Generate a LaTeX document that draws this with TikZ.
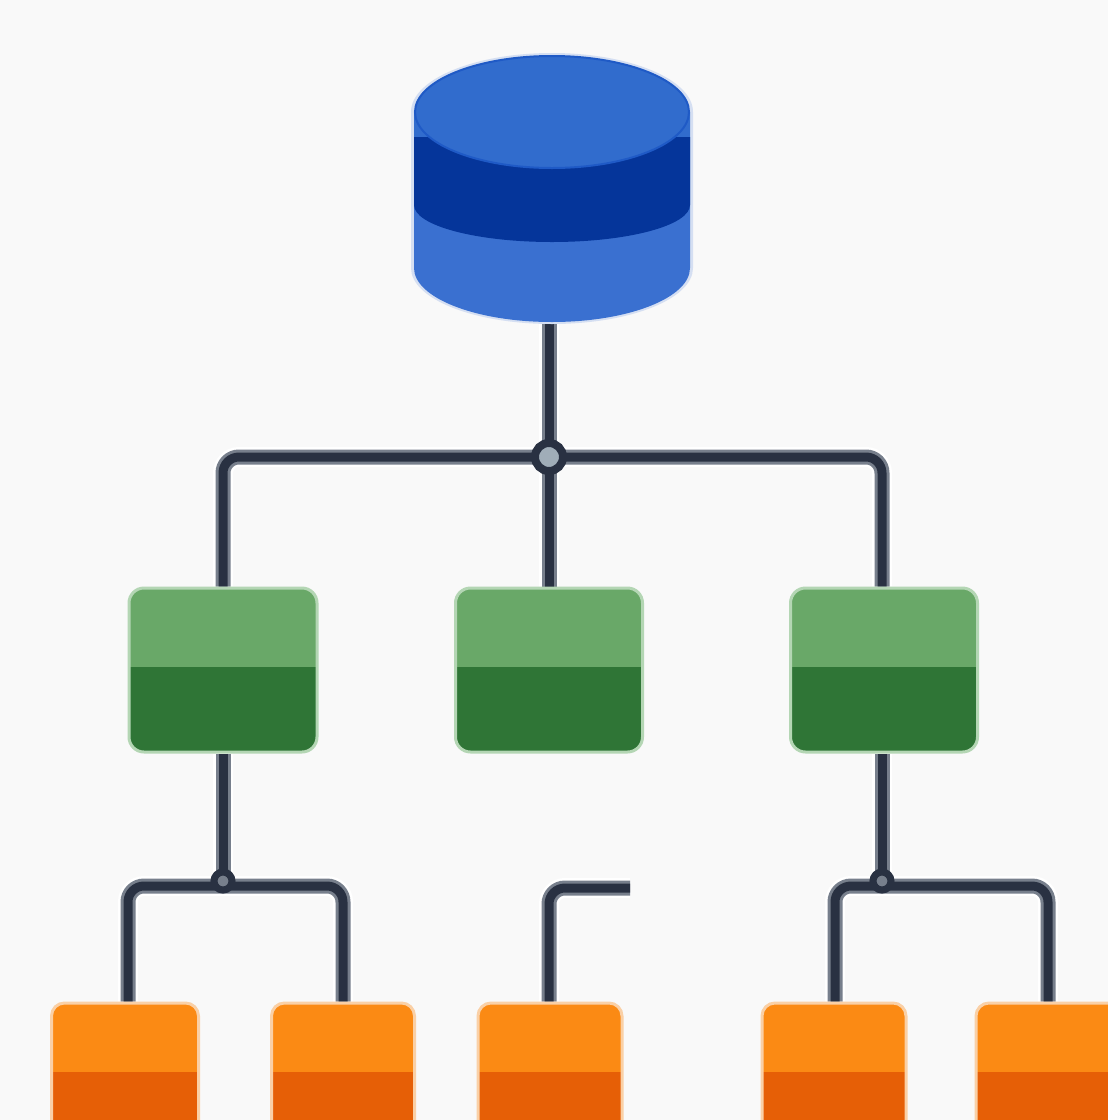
\documentclass[tikz,border=0pt]{standalone}
\definecolor{pagebg}{HTML}{F9F9F9}
\definecolor{linegray}{HTML}{777F8C}
\definecolor{linedark}{HTML}{293142}
\definecolor{hubfill}{HTML}{A0ADB8}
\definecolor{greenlight}{HTML}{69A868}
\definecolor{greendark}{HTML}{2F7536}
\definecolor{greenedge}{HTML}{B4D6B4}
\definecolor{orangelight}{HTML}{FB8A14}
\definecolor{orangedark}{HTML}{E65F06}
\definecolor{orangeedge}{HTML}{FAD0A6}
\definecolor{bluetop}{HTML}{316CCD}
\definecolor{blueband}{HTML}{05359A}
\definecolor{bluelow}{HTML}{3A70D0}
\definecolor{blueedge}{HTML}{1F5AC6}
\definecolor{bluehalo}{HTML}{D5DFF2}
\pgfdeclarelayer{wirelayer}
\pgfsetlayers{wirelayer,main}
\tikzset{
  x=1pt,y=-1pt,
  greenbox/.style={rectangle,rounded corners=15pt,inner sep=0pt,minimum height=164pt,
    fill=greendark,draw=greenedge,line width=3pt,
    path picture={\fill[greenlight,sharp corners] (path picture bounding box.north west) rectangle ([yshift=85pt]path picture bounding box.south east);}},
  orangebox/.style={rectangle,rounded corners=13pt,inner sep=0pt,minimum height=140pt,
    fill=orangedark,draw=orangeedge,line width=3pt,
    path picture={\fill[orangelight,sharp corners] (path picture bounding box.north west) rectangle ([yshift=71pt]path picture bounding box.south east);}},
  halo/.style={draw=white,line width=20pt,rounded corners=16pt},
  wirebase/.style={draw=linegray,line width=15pt,rounded corners=16pt},
  wiretop/.style={draw=linedark,line width=9pt,rounded corners=16pt},
  hubbig/.style={circle,inner sep=0pt,minimum size=28pt,fill=hubfill,draw=linedark,line width=8pt},
  hubsmall/.style={circle,inner sep=0pt,minimum size=18pt,fill=linegray,draw=linedark,line width=7pt},
  dbshape/.style={rectangle,inner sep=0pt,minimum width=276pt,minimum height=266pt}
}
\begin{document}
\begin{tikzpicture}
\clip (0,0) rectangle (1108,1120);

% named anchors
\node[dbshape] (db) at (552,189) {};
\coordinate (hubA) at (549,457);
\coordinate (hubB) at (223,886);
\coordinate (hubC) at (882,886);
\coordinate (freeend) at (630,888);

% boxes
\node[greenbox,minimum width=188pt] (g1) at (223,670) {};
\node[greenbox,minimum width=187pt] (g2) at (549,670) {};
\node[greenbox,minimum width=187pt] (g3) at (884,670) {};
\node[orangebox,minimum width=147pt] (o1) at (125,1073) {};
\node[orangebox,minimum width=143pt] (o2) at (343,1073) {};
\node[orangebox,minimum width=144pt] (o3) at (550,1073) {};
\node[orangebox,minimum width=144pt] (o4) at (834,1073) {};
\node[orangebox,minimum width=144pt] (o5) at (1048,1073) {};

% page and connectors, underneath the boxes
\begin{pgfonlayer}{wirelayer}
\fill[pagebg] (0,0) rectangle (1108,1120);
\foreach \sty/\off in {halo/0,wirebase/0,wiretop/3}{
  \begin{scope}[yshift=\off pt]
  \path[\sty] (db.south -| hubA) -- (hubA);
  \path[\sty] (hubA) -- (hubA |- g2.north);
  \path[\sty] (hubA) -| (g1.north);
  \path[\sty] (hubA) -| (hubC |- g3.north);
  \path[\sty] (g1.south) -- (hubB);
  \path[\sty] (g3.south -| hubC) -- (hubC);
  \path[\sty] (hubB) -| ([xshift=3pt]o1.north);
  \path[\sty] (hubB) -| (o2.north);
  \path[\sty] (hubC) -| ([xshift=1pt]o4.north);
  \path[\sty] (hubC) -| (o5.north);
  \path[\sty] (o3.north -| hubA) |- (freeend);
  \end{scope}
}
\end{pgfonlayer}

% hubs
\node[hubbig] (hub1) at (hubA) {};
\node[hubsmall] (hub2) at ([yshift=5pt]hubB) {};
\node[hubsmall] (hub3) at ([yshift=5pt]hubC) {};

% database cylinder
\fill[bluehalo] (411,112) -- (411,268) arc[start angle=180,end angle=0,x radius=141,y radius=56] -- (693,112) arc[start angle=0,end angle=-180,x radius=141,y radius=59] -- cycle;
\fill[bluelow] (414,112) -- (414,268) arc[start angle=180,end angle=0,x radius=138,y radius=54] -- (690,112) -- cycle;
\fill[bluetop] (414,112) rectangle (690,137);
\fill[blueband] (414,137) -- (414,205) arc[start angle=180,end angle=0,x radius=138,y radius=37] -- (690,137) -- cycle;
\fill[bluetop,draw=blueedge,line width=2pt] (552,112) ellipse[x radius=137,y radius=56];
\end{tikzpicture}
\end{document}
